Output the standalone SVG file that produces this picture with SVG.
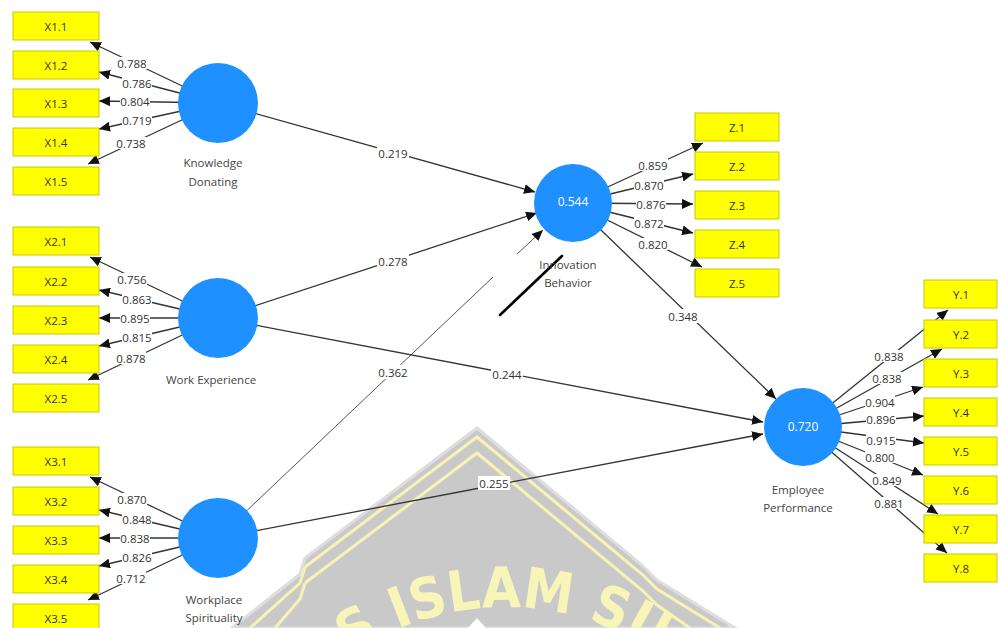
<svg xmlns="http://www.w3.org/2000/svg" width="998" height="628" viewBox="0 0 998 628">
<defs>
<style>
.ind{fill:#ffff00;stroke:#c8c800;stroke-width:1}
.it{font-family:"Open Sans","Liberation Sans",sans-serif;font-size:11.5px;fill:#333;text-anchor:middle;dominant-baseline:central}
.lt{font-family:"Open Sans","Liberation Sans",sans-serif;font-size:11.5px;fill:#444;text-anchor:middle}
.lv{font-family:"Open Sans","Liberation Sans",sans-serif;font-size:11.5px;fill:#333;text-anchor:middle;dominant-baseline:central}
.lb{fill:#fff}
.cv{font-family:"Open Sans","Liberation Sans",sans-serif;font-size:12px;fill:#fff;text-anchor:middle;dominant-baseline:central}
.lc{fill:#1e90ff}
.ln{stroke:#333;stroke-width:1.3;fill:none;marker-end:url(#ah)}
.lg{stroke:#555;stroke-width:1;fill:none}
.wm{fill:none;stroke:#f7f3b4;stroke-width:3}
</style>
<marker id="ah" markerUnits="userSpaceOnUse" markerWidth="11" markerHeight="10" refX="11" refY="5" orient="auto">
<path d="M0,0 L11,5 L0,10 z" fill="#111"/>
</marker>
<path id="arc" d="M267 744.5 A275 275 0 0 1 743 744.5"/>
</defs>
<rect width="998" height="628" fill="#fff"/>

<g id="watermark">
<polygon points="477,428 643,566 657,580 735,628 232,628 300,574 305,558" fill="#c9c9c9" stroke="#dedede" stroke-width="3"/>
<polyline class="wm" points="305,567 477,437 643,575 657,589 720,628"/>
<polyline class="wm" points="305,583 477,453 643,591 657,605 690,628"/>
<polyline class="wm" points="250,628 300,583 305,567"/>
<polyline class="wm" points="275,628 300,599 305,583"/>
<polygon points="468,628 477,618 486,628" fill="#fff"/>
<text font-family="DejaVu Sans Condensed, DejaVu Sans, sans-serif" font-stretch="condensed" font-weight="bold" font-size="56" fill="#f8f5b8"><textPath href="#arc" startOffset="286" text-anchor="middle" textLength="325" lengthAdjust="spacingAndGlyphs">S ISLAM SU</textPath></text>
</g>

<g id="connectors">
<line class="ln" x1="218" y1="103" x2="535" y2="192"/>
<line class="ln" x1="218" y1="318" x2="537" y2="213"/>
<line class="lg" x1="218" y1="538" x2="493" y2="277"/>
<line class="lg" x1="517" y1="254" x2="543" y2="230" marker-end="url(#ah)"/>
<line class="ln" x1="218" y1="318" x2="763" y2="422"/>
<line class="ln" x1="218" y1="538" x2="763" y2="434"/>
<line class="ln" x1="573" y1="203" x2="776" y2="399"/>
<line class="ln" x1="218" y1="103" x2="90" y2="42"/>
<line class="ln" x1="218" y1="103" x2="99" y2="72"/>
<line class="ln" x1="218" y1="103" x2="99" y2="101"/>
<line class="ln" x1="218" y1="103" x2="99" y2="129"/>
<line class="ln" x1="218" y1="103" x2="88" y2="164"/>
<line class="ln" x1="218" y1="318" x2="90" y2="257"/>
<line class="ln" x1="218" y1="318" x2="99" y2="290"/>
<line class="ln" x1="218" y1="318" x2="99" y2="318"/>
<line class="ln" x1="218" y1="318" x2="99" y2="346"/>
<line class="ln" x1="218" y1="318" x2="88" y2="380"/>
<line class="ln" x1="218" y1="538" x2="90" y2="477"/>
<line class="ln" x1="218" y1="538" x2="99" y2="510"/>
<line class="ln" x1="218" y1="538" x2="99" y2="538"/>
<line class="ln" x1="218" y1="538" x2="99" y2="566"/>
<line class="ln" x1="218" y1="538" x2="88" y2="600"/>
<line class="ln" x1="573" y1="203" x2="703" y2="143"/>
<line class="ln" x1="573" y1="203" x2="693" y2="174"/>
<line class="ln" x1="573" y1="203" x2="693" y2="204"/>
<line class="ln" x1="573" y1="203" x2="693" y2="233"/>
<line class="ln" x1="573" y1="203" x2="702" y2="267"/>
<line class="ln" x1="803" y1="427" x2="948" y2="310"/>
<line class="ln" x1="803" y1="427" x2="942" y2="349"/>
<line class="ln" x1="803" y1="427" x2="923" y2="387"/>
<line class="ln" x1="803" y1="427" x2="924" y2="416"/>
<line class="ln" x1="803" y1="427" x2="924" y2="443"/>
<line class="ln" x1="803" y1="427" x2="923" y2="475"/>
<line class="ln" x1="803" y1="427" x2="938" y2="514"/>
<line class="ln" x1="803" y1="427" x2="947" y2="553"/>

<g id="labels">
<rect class="lb" x="377" y="146" width="32" height="14"/><text class="lv" x="393" y="153">0.219</text>
<rect class="lb" x="377" y="254" width="32" height="14"/><text class="lv" x="393" y="261">0.278</text>
<rect class="lb" x="377" y="365" width="32" height="14"/><text class="lv" x="393" y="372">0.362</text>
<rect class="lb" x="491" y="367" width="32" height="14"/><text class="lv" x="507" y="374">0.244</text>
<rect class="lb" x="478" y="476" width="32" height="14"/><text class="lv" x="494" y="483">0.255</text>
<rect class="lb" x="667" y="309" width="32" height="14"/><text class="lv" x="683" y="316">0.348</text>

<rect class="lb" x="117" y="57" width="30" height="12"/><text class="lv" x="132" y="63">0.788</text>
<rect class="lb" x="122" y="77" width="30" height="12"/><text class="lv" x="137" y="83">0.786</text>
<rect class="lb" x="120" y="95" width="30" height="12"/><text class="lv" x="135" y="101">0.804</text>
<rect class="lb" x="122" y="114" width="30" height="12"/><text class="lv" x="137" y="120">0.719</text>
<rect class="lb" x="116" y="137" width="30" height="12"/><text class="lv" x="131" y="143">0.738</text>

<rect class="lb" x="117" y="273" width="30" height="12"/><text class="lv" x="132" y="279">0.756</text>
<rect class="lb" x="122" y="293" width="30" height="12"/><text class="lv" x="137" y="299">0.863</text>
<rect class="lb" x="120" y="312" width="30" height="12"/><text class="lv" x="135" y="318">0.895</text>
<rect class="lb" x="122" y="331" width="30" height="12"/><text class="lv" x="137" y="337">0.815</text>
<rect class="lb" x="116" y="352" width="30" height="12"/><text class="lv" x="131" y="358">0.878</text>

<rect class="lb" x="117" y="493" width="30" height="12"/><text class="lv" x="132" y="499">0.870</text>
<rect class="lb" x="122" y="513" width="30" height="12"/><text class="lv" x="137" y="519">0.848</text>
<rect class="lb" x="120" y="532" width="30" height="12"/><text class="lv" x="135" y="538">0.838</text>
<rect class="lb" x="122" y="551" width="30" height="12"/><text class="lv" x="137" y="557">0.826</text>
<rect class="lb" x="116" y="572" width="30" height="12"/><text class="lv" x="131" y="578">0.712</text>

<rect class="lb" x="638" y="159" width="30" height="12"/><text class="lv" x="653" y="165">0.859</text>
<rect class="lb" x="634" y="179" width="30" height="12"/><text class="lv" x="649" y="185">0.870</text>
<rect class="lb" x="636" y="198" width="30" height="12"/><text class="lv" x="651" y="204">0.876</text>
<rect class="lb" x="634" y="217" width="30" height="12"/><text class="lv" x="649" y="223">0.872</text>
<rect class="lb" x="638" y="238" width="30" height="12"/><text class="lv" x="653" y="244">0.820</text>

<rect class="lb" x="874" y="350" width="30" height="12"/><text class="lv" x="889" y="356">0.838</text>
<rect class="lb" x="872" y="372" width="30" height="12"/><text class="lv" x="887" y="378">0.838</text>
<rect class="lb" x="865" y="396" width="30" height="12"/><text class="lv" x="880" y="402">0.904</text>
<rect class="lb" x="866" y="413" width="30" height="12"/><text class="lv" x="881" y="419">0.896</text>
<rect class="lb" x="866" y="434" width="30" height="12"/><text class="lv" x="881" y="440">0.915</text>
<rect class="lb" x="865" y="451" width="30" height="12"/><text class="lv" x="880" y="457">0.800</text>
<rect class="lb" x="872" y="474" width="30" height="12"/><text class="lv" x="887" y="480">0.849</text>
<rect class="lb" x="874" y="497" width="30" height="12"/><text class="lv" x="889" y="503">0.881</text>
</g>
</g>

<line x1="500" y1="315" x2="562" y2="256" stroke="#000" stroke-width="2.6" stroke-linecap="round"/>

<g id="KD"><circle class="lc" cx="218" cy="103" r="40"/><text class="lt" x="213" y="167">Knowledge</text><text class="lt" x="213" y="186">Donating</text></g>
<g id="WE"><circle class="lc" cx="218" cy="318" r="40"/><text class="lt" x="211" y="384">Work Experience</text></g>
<g id="WS"><circle class="lc" cx="218" cy="538" r="40"/><text class="lt" x="214" y="604">Workplace</text><text class="lt" x="214" y="622">Spirituality</text></g>
<g id="IB"><circle class="lc" cx="573" cy="203" r="39"/><text class="cv" x="573" y="201">0.544</text><text class="lt" x="568" y="269">Innovation</text><text class="lt" x="568" y="287">Behavior</text></g>
<g id="EP"><circle class="lc" cx="803" cy="427" r="39"/><text class="cv" x="803" y="426">0.720</text><text class="lt" x="798" y="494">Employee</text><text class="lt" x="798" y="512">Performance</text></g>

<g id="X1.1"><rect class="ind" x="13" y="12" width="86" height="28"/><text class="it" x="56" y="26">X1.1</text></g>
<g id="X1.2"><rect class="ind" x="13" y="51" width="86" height="28"/><text class="it" x="56" y="65">X1.2</text></g>
<g id="X1.3"><rect class="ind" x="13" y="89" width="86" height="28"/><text class="it" x="56" y="103">X1.3</text></g>
<g id="X1.4"><rect class="ind" x="13" y="128" width="86" height="28"/><text class="it" x="56" y="142">X1.4</text></g>
<g id="X1.5"><rect class="ind" x="13" y="167" width="86" height="28"/><text class="it" x="56" y="181">X1.5</text></g>

<g id="X2.1"><rect class="ind" x="13" y="227" width="86" height="28"/><text class="it" x="56" y="241">X2.1</text></g>
<g id="X2.2"><rect class="ind" x="13" y="267" width="86" height="28"/><text class="it" x="56" y="281">X2.2</text></g>
<g id="X2.3"><rect class="ind" x="13" y="306" width="86" height="28"/><text class="it" x="56" y="320">X2.3</text></g>
<g id="X2.4"><rect class="ind" x="13" y="345" width="86" height="28"/><text class="it" x="56" y="359">X2.4</text></g>
<g id="X2.5"><rect class="ind" x="13" y="384" width="86" height="28"/><text class="it" x="56" y="398">X2.5</text></g>

<g id="X3.1"><rect class="ind" x="13" y="447" width="86" height="28"/><text class="it" x="56" y="461">X3.1</text></g>
<g id="X3.2"><rect class="ind" x="13" y="487" width="86" height="28"/><text class="it" x="56" y="501">X3.2</text></g>
<g id="X3.3"><rect class="ind" x="13" y="526" width="86" height="28"/><text class="it" x="56" y="540">X3.3</text></g>
<g id="X3.4"><rect class="ind" x="13" y="565" width="86" height="28"/><text class="it" x="56" y="579">X3.4</text></g>
<g id="X3.5"><rect class="ind" x="13" y="604" width="86" height="28"/><text class="it" x="56" y="618">X3.5</text></g>

<g id="Z.1"><rect class="ind" x="695" y="113" width="84" height="28"/><text class="it" x="737" y="127">Z.1</text></g>
<g id="Z.2"><rect class="ind" x="695" y="152" width="84" height="28"/><text class="it" x="737" y="166">Z.2</text></g>
<g id="Z.3"><rect class="ind" x="695" y="191" width="84" height="28"/><text class="it" x="737" y="205">Z.3</text></g>
<g id="Z.4"><rect class="ind" x="695" y="230" width="84" height="28"/><text class="it" x="737" y="244">Z.4</text></g>
<g id="Z.5"><rect class="ind" x="695" y="269" width="84" height="28"/><text class="it" x="737" y="283">Z.5</text></g>

<g id="Y.1"><rect class="ind" x="924" y="280" width="73" height="28"/><text class="it" x="961" y="294">Y.1</text></g>
<g id="Y.2"><rect class="ind" x="924" y="320" width="73" height="28"/><text class="it" x="961" y="334">Y.2</text></g>
<g id="Y.3"><rect class="ind" x="924" y="359" width="73" height="28"/><text class="it" x="961" y="373">Y.3</text></g>
<g id="Y.4"><rect class="ind" x="924" y="398" width="73" height="28"/><text class="it" x="961" y="412">Y.4</text></g>
<g id="Y.5"><rect class="ind" x="924" y="437" width="73" height="28"/><text class="it" x="961" y="451">Y.5</text></g>
<g id="Y.6"><rect class="ind" x="924" y="476" width="73" height="28"/><text class="it" x="961" y="490">Y.6</text></g>
<g id="Y.7"><rect class="ind" x="924" y="515" width="73" height="28"/><text class="it" x="961" y="529">Y.7</text></g>
<g id="Y.8"><rect class="ind" x="924" y="554" width="73" height="28"/><text class="it" x="961" y="568">Y.8</text></g>
</svg>
